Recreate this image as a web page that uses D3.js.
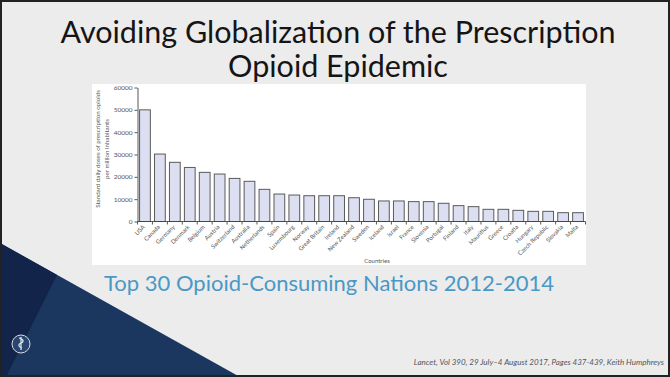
<!DOCTYPE html>
<html>
<head>
<meta charset="utf-8">
<script src="https://cdn.jsdelivr.net/npm/d3@7"></script>
<style>
  html, body { margin: 0; padding: 0; background: #ececec; }
  svg { display: block; }
</style>
</head>
<body>
<svg id="chart" width="670" height="377"></svg>
<script>
const titleLines = ["Avoiding Globalization of the Prescription", "Opioid Epidemic"];
const subtitle = "Top 30 Opioid-Consuming Nations 2012-2014";
const footer = "Lancet, Vol 390,  29 July\u20134 August 2017, Pages 437-439, Keith Humphreys";
const yLabelLines = ["Standard daily doses of prescription opioids", "per million inhabitants"];
const xLabel = "Countries";
const categories = ["USA","Canada","Germany","Denmark","Belgium","Austria","Switzerland","Australia","Netherlands","Spain","Luxembourg","Norway","Great Britain","Ireland","New Zealand","Sweden","Iceland","Israel","France","Slovenia","Portugal","Finland","Italy","Mauritius","Greece","Croatia","Hungary","Czech Republic","Slovakia","Malta"];
const values = [50000,30200,26500,24200,22000,21250,19300,18000,14400,12300,11850,11550,11550,11550,10650,9950,9200,9200,8900,8900,8150,7100,6650,5450,5450,5000,4550,4550,3950,3950];
const yTicks = [0,10000,20000,30000,40000,50000,60000];

const svg = d3.select("#chart");
const FONT = "Lato, 'Open Sans', sans-serif";

svg.append("rect").attr("x",0).attr("y",0).attr("width",670).attr("height",377).attr("fill","#ececec");

// decorative navy shapes bottom-left
svg.append("path").attr("d","M0,243 L240,377 L0,377 Z").attr("fill","#1b365f");
svg.append("path").attr("d","M0,243 L57,275 L6,377 L0,377 Z").attr("fill","#12244a");

// logo
const logo = svg.append("g").attr("transform","translate(21,344)");
logo.append("circle").attr("r",9).attr("fill","#2a4670").attr("stroke","#d8dde6").attr("stroke-width",1);
logo.append("path").attr("d","M-2,-6 C3,-5 3,-2 0,-1 C-3,0 -3,3 1,4 M0,-7 L0,6").attr("fill","none").attr("stroke","#e8ecf2").attr("stroke-width",1.2);

// title
const title = svg.append("text").attr("text-anchor","middle").attr("font-family",FONT).attr("font-size",30.5).attr("fill","#151515");
title.append("tspan").attr("x",338).attr("y",43).text(titleLines[0]);
title.append("tspan").attr("x",338).attr("y",77).text(titleLines[1]);

// subtitle
svg.append("text").attr("x",329).attr("y",291).attr("text-anchor","middle").attr("font-family",FONT).attr("font-size",22).attr("fill","#4a98c6").text(subtitle);

// footer
svg.append("text").attr("x",664).attr("y",365).attr("text-anchor","end").attr("font-family",FONT).attr("font-style","italic").attr("font-size",8).attr("fill","#555").text(footer);

// chart panel
svg.append("rect").attr("x",92).attr("y",84).attr("width",494).attr("height",181).attr("fill","#ffffff");
svg.append("clipPath").attr("id","pclip").append("rect").attr("x",92).attr("y",84).attr("width",494).attr("height",181);
const g = svg.append("g").attr("clip-path","url(#pclip)");

const x = d3.scaleBand().domain(categories).range([137.5,585.5]).padding(0);
const y = d3.scaleLinear().domain([0,60000]).range([221.5,87.5]);

// bars
g.selectAll("rect.bar").data(categories).enter().append("rect")
  .attr("class","bar")
  .attr("x",d=>x(d)+x.bandwidth()*0.14)
  .attr("width",x.bandwidth()*0.72)
  .attr("y",(d,i)=>y(values[i]))
  .attr("height",(d,i)=>y(0)-y(values[i]))
  .attr("fill","#dcdff1")
  .attr("stroke","#5a5a5a")
  .attr("stroke-width",1);

// y axis
const yAxis = d3.axisLeft(y).tickValues(yTicks).tickSize(3).tickSizeOuter(0).tickPadding(2).tickFormat(d3.format("d"));
const ya = g.append("g").attr("transform","translate(137.5,0)").call(yAxis);
ya.selectAll("path,line").attr("stroke","#444").attr("stroke-width",0.9);
ya.selectAll("text").attr("font-family",FONT).attr("font-size",6.5).attr("fill","#555");

// x axis line and boundary ticks
g.append("line").attr("x1",137.5).attr("x2",585.5).attr("y1",221.5).attr("y2",221.5).attr("stroke","#444").attr("stroke-width",0.9);
const bounds = categories.map(c=>x(c)).concat([x.range()[1]]);
g.selectAll("line.xt").data(bounds).enter().append("line")
  .attr("x1",d=>d).attr("x2",d=>d).attr("y1",221.5).attr("y2",224.5)
  .attr("stroke","#444").attr("stroke-width",0.9);

// x labels
g.selectAll("text.xl").data(categories).enter().append("text")
  .attr("transform",d=>`translate(${x(d)+x.bandwidth()/2-1},${226}) rotate(-45)`)
  .attr("text-anchor","end")
  .attr("dy","0.35em")
  .attr("font-family",FONT)
  .attr("font-size",6)
  .attr("fill","#555")
  .text(d=>d);

g.append("text").attr("x",377).attr("y",263).attr("text-anchor","middle")
  .attr("font-family",FONT).attr("font-size",6).attr("fill","#555").text(xLabel);

// y label
const yl = g.append("text").attr("transform","translate(99.5,149) rotate(-90)").attr("text-anchor","middle")
  .attr("font-family",FONT).attr("font-size",6.2).attr("fill","#555");
yl.append("tspan").attr("x",0).attr("y",0).text(yLabelLines[0]);
yl.append("tspan").attr("x",0).attr("y",9).text(yLabelLines[1]);

// frame
svg.append("rect").attr("x",1).attr("y",1).attr("width",668).attr("height",375).attr("fill","none").attr("stroke","#222").attr("stroke-width",2);
</script>
</body>
</html>
